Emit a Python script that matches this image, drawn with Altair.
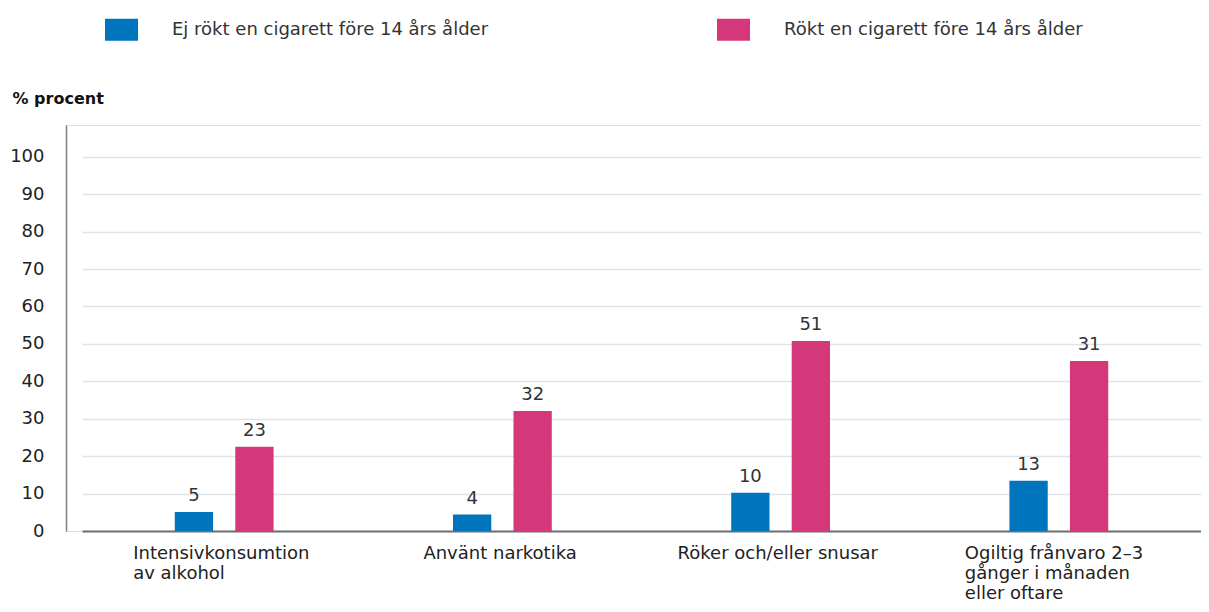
import altair as alt
import pandas as pd

categories = [
    "Intensivkonsumtion\nav alkohol",
    "Använt narkotika",
    "Röker och/eller snusar",
    "Ogiltig frånvaro 2–3\ngånger i månaden\neller oftare",
]
series = ["Ej rökt en cigarett före 14 års ålder", "Rökt en cigarett före 14 års ålder"]
colors = ["#0074BC", "#D4387A"]

# bar heights as drawn
blue_values = [5.1, 4.4, 10.2, 13.4]
pink_values = [22.5, 32.1, 50.8, 45.4]
# printed labels
blue_labels = ["5", "4", "10", "13"]
pink_labels = ["23", "32", "51", "31"]

y_ticks = [0, 10, 20, 30, 40, 50, 60, 70, 80, 90, 100]

rows = []
for i, c in enumerate(categories):
    rows.append({"cat": c, "series": series[0], "value": blue_values[i], "label": blue_labels[i]})
    rows.append({"cat": c, "series": series[1], "value": pink_values[i], "label": pink_labels[i]})
df = pd.DataFrame(rows)

FONT = "DejaVu Sans"
FS = 18

x_enc = alt.X(
    "cat:N",
    sort=categories,
    scale=alt.Scale(paddingInner=0.21, paddingOuter=0.116, range=[16, 1135]),
    axis=alt.Axis(
        title=None,
        labelExpr="split(datum.label, '\\n')",
        labelAngle=0,
        labelAlign="left",
        labelBaseline="top",
        labelPadding=13,
        labelLineHeight=20,
        labelFontSize=FS,
        labelColor="#222222",
        labelFont=FONT,
        labelLimit=400,
        labelOffset={
            "condition": [
                {"test": "substring(datum.value, 0, 5) == 'Inten'", "value": -91},
                {"test": "substring(datum.value, 0, 5) == 'Använ'", "value": -79},
                {"test": "substring(datum.value, 0, 5) == 'Röker'", "value": -103},
            ],
            "value": -94,
        },
        ticks=False,
        domainColor="#6f6f6f",
        domainWidth=2,
        grid=False,
    ),
)
xo_enc = alt.XOffset("series:N", sort=series, scale=alt.Scale(paddingInner=0.367, paddingOuter=1))
y_enc = alt.Y(
    "value:Q",
    scale=alt.Scale(domain=[0, 108.5], nice=False),
    axis=alt.Axis(
        values=y_ticks,
        title="% procent",
        titleAngle=0,
        titleX=-54,
        titleY=-22,
        titleAlign="left",
        titleBaseline="alphabetic",
        titleFontWeight="bold",
        titleFontSize=16,
        titleColor="#111111",
        titleFont=FONT,
        labelFontSize=FS,
        labelColor="#222222",
        labelFont=FONT,
        labelPadding=22,
        ticks=False,
        domainColor="#808080",
        domainWidth=1.5,
        gridColor="#dde3e7",
        gridWidth=1.5,
    ),
)

bars = alt.Chart(df).mark_bar().encode(
    x=x_enc,
    xOffset=xo_enc,
    y=y_enc,
    color=alt.Color(
        "series:N",
        sort=series,
        scale=alt.Scale(domain=series, range=colors),
        legend=alt.Legend(
            title=None,
            orient="none",
            legendX=39,
            legendY=-112,
            direction="horizontal",
            columns=2,
            columnPadding=228,
            symbolType="M-1,-0.667L1,-0.667L1,0.667L-1,0.667Z",
            symbolSize=1089,
            symbolStrokeWidth=0,
            symbolOpacity=1,
            labelFontSize=FS,
            labelColor="#333333",
            labelFont=FONT,
            labelOffset=34,
            labelLimit=600,
        ),
    ),
)

texts = alt.Chart(df).mark_text(
    fontSize=FS, color="#333333", font=FONT, baseline="alphabetic", dy=-11
).encode(
    x=alt.X("cat:N", sort=categories),
    xOffset=alt.XOffset("series:N", sort=series),
    y=alt.Y("value:Q"),
    text="label:N",
)

chart = (
    alt.layer(bars, texts)
    .properties(
        width=1135,
        height=406,
        autosize=alt.AutoSizeParams(type="none"),
        padding={"left": 58, "top": 117, "right": 0, "bottom": 73},
    )
    .configure_view(stroke=None)
    .configure(font=FONT)
)

chart.save("out.html", embed_options={"renderer": "svg", "actions": False})
